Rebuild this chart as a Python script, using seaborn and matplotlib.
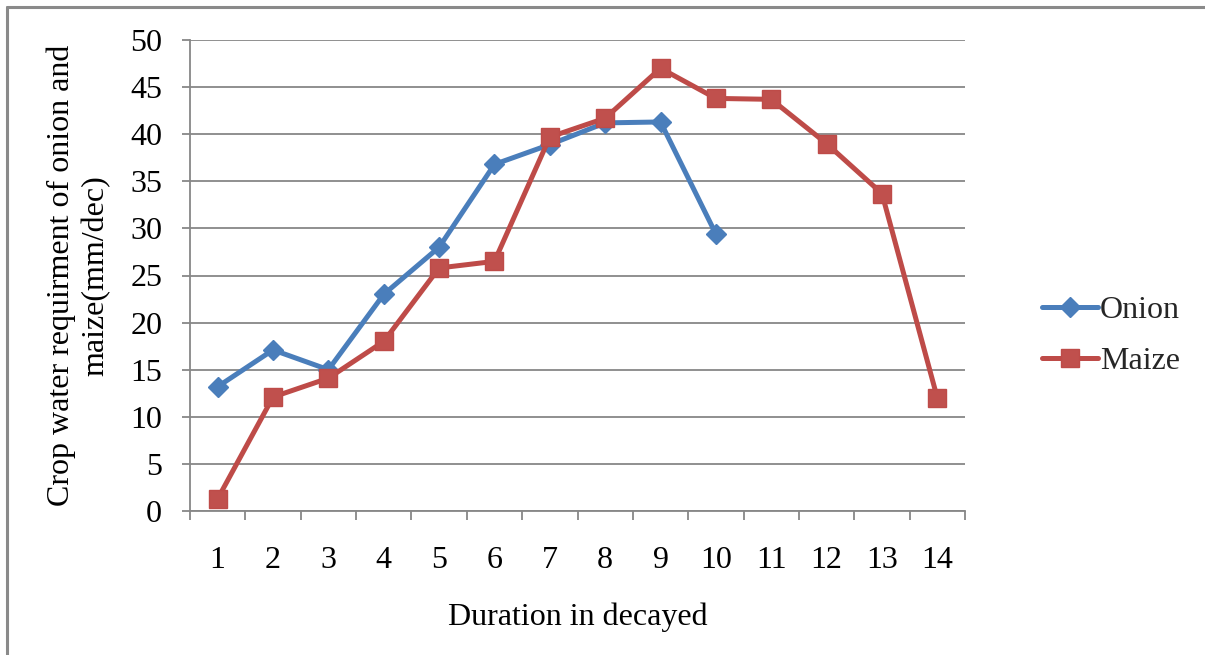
import matplotlib
matplotlib.use("Agg")
import matplotlib.pyplot as plt
from matplotlib.lines import Line2D
import seaborn as sns
import pandas as pd
import numpy as np

# Crop water requirement per decade (mm/dec)
onion_decades = [1, 2, 3, 4, 5, 6, 7, 8, 9, 10]
onion_values = [13.2, 17.1, 15.0, 23.0, 28.0, 36.8, 38.9, 41.2, 41.3, 29.4]
maize_decades = [1, 2, 3, 4, 5, 6, 7, 8, 9, 10, 11, 12, 13, 14]
maize_values = [1.3, 12.1, 14.1, 18.0, 25.8, 26.5, 39.7, 41.7, 47.0, 43.8, 43.7, 39.0, 33.7, 12.0]
x_tick_labels = [str(i) for i in range(1, 15)]
y_ticks = list(range(0, 51, 5))

onion_df = pd.DataFrame({"decade": onion_decades, "cwr": onion_values, "crop": "Onion"})
maize_df = pd.DataFrame({"decade": maize_decades, "cwr": maize_values, "crop": "Maize"})

sns.set_theme(style="white")
plt.rcParams["font.family"] = ["Liberation Serif", "DejaVu Serif"]

BLUE = "#4A7EBB"
RED = "#BE4B48"
GRID = "#878787"
FS = 23

fig = plt.figure(figsize=(12.05, 6.55), dpi=100)
ax = fig.add_axes([190 / 1205, 1 - 511 / 655, (965 - 190) / 1205, (511 - 40) / 655])

sns.lineplot(data=onion_df, x="decade", y="cwr", ax=ax, color=BLUE, linewidth=3.6,
             marker="D", markersize=10.5, markeredgecolor=BLUE, markerfacecolor=BLUE,
             markeredgewidth=1, legend=False)
sns.lineplot(data=maize_df, x="decade", y="cwr", ax=ax, color=RED, linewidth=3.6,
             marker="s", markersize=13.5, markeredgecolor=RED, markerfacecolor="#C0504D",
             markeredgewidth=1, legend=False)

ax.set_xlim(0.5, 14.5)
ax.set_ylim(0, 50)
ax.set_yticks(y_ticks)
ax.set_xticks(range(1, 15))
ax.set_xticklabels(x_tick_labels)
ax.set_xticks(np.arange(0.5, 14.6, 1.0), minor=True)

ax.yaxis.grid(True, color=GRID, linewidth=1.3)
ax.xaxis.grid(False)
ax.set_axisbelow(True)

for side in ("top", "right"):
    ax.spines[side].set_visible(False)
for side in ("left", "bottom"):
    ax.spines[side].set_color(GRID)
    ax.spines[side].set_linewidth(1.3)

ax.tick_params(axis="y", which="major", direction="out", length=6, width=1.3,
               color=GRID, labelsize=FS, pad=14, left=True)
ax.tick_params(axis="x", which="major", length=0, labelsize=FS, pad=25)
ax.tick_params(axis="x", which="minor", direction="out", length=6.5, width=1.3,
               color=GRID, bottom=True)
for lbl in ax.get_xticklabels() + ax.get_yticklabels():
    lbl.set_color("black")

ax.set_xlabel("Duration in decayed", fontsize=FS, color="black", labelpad=20)
ax.set_ylabel("Crop water requirment of onion and\nmaize(mm/dec)", fontsize=FS,
              color="black", labelpad=14, linespacing=1.25)

handles = [
    Line2D([], [], color=BLUE, linewidth=3.6, marker="D", markersize=10.5,
           markerfacecolor=BLUE, markeredgecolor=BLUE),
    Line2D([], [], color=RED, linewidth=3.6, marker="s", markersize=13.5,
           markerfacecolor="#C0504D", markeredgecolor=RED),
]
fig.legend(handles, ["Onion", "Maize"], loc="center left",
           bbox_to_anchor=(1020 / 1205, 1 - 336 / 655), frameon=False,
           fontsize=FS, handlelength=1.75, handletextpad=0.05, labelspacing=0.66,
           borderpad=0.2)

# outer frame (top and left edges)
fig.add_artist(Line2D([7 / 1205, 1.0], [1 - 7 / 655, 1 - 7 / 655],
                      transform=fig.transFigure, color="#8a8a8a", linewidth=2.2))
fig.add_artist(Line2D([7 / 1205, 7 / 1205], [0.0, 1 - 7 / 655],
                      transform=fig.transFigure, color="#8a8a8a", linewidth=2.2))

fig.savefig("out.png", dpi=100, facecolor="white")
